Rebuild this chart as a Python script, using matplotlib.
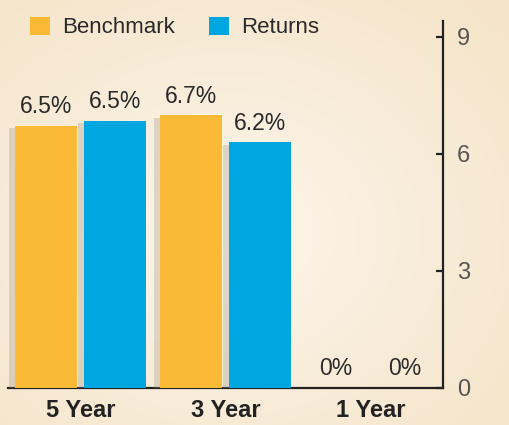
import matplotlib.pyplot as plt
import numpy as np
import matplotlib.patches as mpatches
import matplotlib.patheffects as pe

# data
periods = ['5 Year', '3 Year', '1 Year']
benchmark = [6.72, 6.98, 0.0]
returns = [6.85, 6.30, 0.0]
benchmark_labels = ['6.5%', '6.7%', '0%']
returns_labels = ['6.5%', '6.2%', '0%']
yticks = [0, 3, 6, 9]

orange = '#FBBA36'
blue = '#00A6E0'

plt.rcParams['font.family'] = ['Liberation Sans', 'DejaVu Sans']

fig = plt.figure(figsize=(5.1, 4.25), dpi=100)

# soft beige background gradient
bg = fig.add_axes([0, 0, 1, 1], zorder=-10)
yy, xx = np.mgrid[0:1:200j, 0:1:240j]
dist = np.sqrt((xx - 0.45) ** 2 + (yy - 0.55) ** 2)
c_in = np.array([252, 246, 236]) / 255
c_out = np.array([245, 228, 200]) / 255
t = np.clip(dist / 0.75, 0, 1)[..., None]
bg.imshow(c_in * (1 - t) + c_out * t, aspect='auto', extent=[0, 1, 0, 1])
bg.axis('off')

ax = fig.add_axes([0.0157, 0.0871, 0.853, 0.8635])
ax.set_facecolor('none')

index = np.arange(len(periods))
bar_width = 0.43
off = 0.237
shadow = [pe.SimplePatchShadow(offset=(-4, -2), shadow_rgbFace='#9e9384', alpha=0.3), pe.Normal()]

b1 = ax.bar(index - off, benchmark, bar_width, color=orange, zorder=3)
b2 = ax.bar(index + off, returns, bar_width, color=blue, zorder=3)
for bar in list(b1) + list(b2):
    bar.set_path_effects(shadow)

for bars, labels in [(b1, benchmark_labels), (b2, returns_labels)]:
    for bar, lab in zip(bars, labels):
        ax.annotate(lab, (bar.get_x() + bar.get_width() / 2, bar.get_height()),
                    xytext=(0, 9), textcoords='offset points',
                    ha='center', va='baseline', fontsize=16.5, color='#2a2a2a')

ax.set_xlim(-0.5, 2.5)
ax.set_ylim(0, 9.4)

ax.spines['top'].set_visible(False)
ax.spines['left'].set_visible(False)
for s in ['right', 'bottom']:
    ax.spines[s].set_linewidth(1.6)
    ax.spines[s].set_color('#222222')

ax.yaxis.tick_right()
ax.set_yticks(yticks)
ax.tick_params(axis='y', direction='in', length=5, width=1.6, color='#222222',
               pad=10, labelsize=17, labelcolor='#555555')

ax.set_xticks(index)
ax.set_xticklabels(periods, fontsize=17, fontweight='bold', color='#222222')
ax.tick_params(axis='x', length=0, pad=8)

handle_1 = mpatches.Patch(facecolor=orange, label='Benchmark')
handle_2 = mpatches.Patch(facecolor=blue, label='Returns')
leg = fig.legend(handles=[handle_1, handle_2], loc='upper left', bbox_to_anchor=(0.02, 1.008),
                 ncol=2, frameon=False, fontsize=16, handlelength=0.9, handleheight=0.9,
                 handletextpad=0.55, columnspacing=1.5, labelcolor='#2a2a2a')

plt.savefig('out.png', dpi=100)
